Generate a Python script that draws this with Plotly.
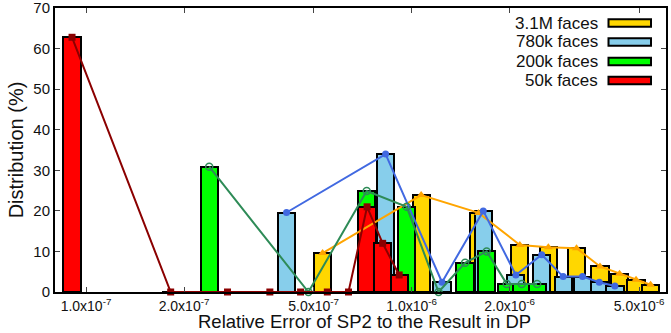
import numpy as np
import plotly.graph_objects as go

# ---- data ----
series_names = ["3.1M faces", "780k faces", "200k faces", "50k faces"]

x_31m = [5.33e-7, 1.07e-6, 1.606e-6, 2.15e-6, 2.63e-6, 3.21e-6, 3.79e-6, 4.35e-6, 4.89e-6, 5.42e-6]
y_31m = [9.6, 23.9, 19.5, 11.6, 11.05, 10.8, 6.3, 4.5, 3.0, 1.8]

x_780k = [4.13e-7, 8.32e-7, 1.24e-6, 1.66e-6, 2.09e-6, 2.51e-6, 2.92e-6, 3.35e-6, 3.77e-6, 4.21e-6]
y_780k = [19.6, 34.0, 2.4, 20.0, 4.2, 9.2, 3.8, 3.8, 2.4, 1.5]

x_200k = [2.39e-7, 4.82e-7, 7.28e-7, 9.66e-7, 1.21e-6, 1.46e-6, 1.70e-6, 1.96e-6, 2.18e-6, 2.43e-6]
y_200k = [30.9, 0.0, 24.9, 21.0, 0.0, 7.2, 10.0, 2.0, 2.0, 2.0]

x_50k = [0.906e-7, 1.82e-7, 2.72e-7, 3.67e-7, 4.56e-7, 5.51e-7, 6.40e-7, 7.30e-7, 8.15e-7, 9.16e-7]
y_50k = [62.8, 0.0, 0.0, 0.0, 0.0, 0.0, 0.0, 21.0, 12.0, 4.2]

tick_values = [1e-7, 2e-7, 5e-7, 1e-6, 2e-6, 5e-6]
tick_labels = ["1.0x10<sup>-7</sup>", "2.0x10<sup>-7</sup>", "5.0x10<sup>-7</sup>",
               "1.0x10<sup>-6</sup>", "2.0x10<sup>-6</sup>", "5.0x10<sup>-6</sup>"]
y_ticks = [0, 10, 20, 30, 40, 50, 60, 70]
y_tick_labels = ["0", "10", "20", "30", "40", "50", "60", "70"]
x_title = "Relative Error of SP2 to the Result in DP"
y_title = "Distribution (%)"

# ---- styles ----
bar_colors = ["#FFD700", "#87CEEB", "#00FF00", "#FF0000"]
line_colors = ["#FFA500", "#4169E1", "#2E8B57", "#8B0000"]
markers = [
    dict(symbol="triangle-up", size=8),
    dict(symbol="circle", size=7),
    dict(symbol="circle-open", size=7, line=dict(width=1.5)),
    dict(symbol="square", size=7),
]
xs = [x_31m, x_780k, x_200k, x_50k]
ys = [y_31m, y_780k, y_200k, y_50k]

BAR_W = 0.053  # in log10 units (constant pixel width on log axis)

fig = go.Figure()
for name, x, y, c in zip(series_names, xs, ys, bar_colors):
    fig.add_trace(go.Bar(
        x=np.log10(x), y=y, width=BAR_W, name=name,
        marker=dict(color=c, line=dict(color="black", width=2)),
        showlegend=False,
    ))
for name, x, y, c, m in zip(series_names, xs, ys, line_colors, markers):
    mk = dict(m)
    mk["color"] = c
    if "line" in mk:
        mk["line"] = dict(mk["line"], color=c)
    fig.add_trace(go.Scatter(
        x=np.log10(x), y=y, mode="lines+markers", name=name,
        line=dict(color=c, width=2), marker=mk, showlegend=False,
        cliponaxis=False,
    ))

# ---- legend (text on left, swatch on right, as in the original) ----
row_y = [23, 42, 61.5, 80.5]  # pixel rows from top
plot_top, plot_bot = 8, 292
for name, c, ry in zip(series_names, bar_colors, row_y):
    yp = (plot_bot - ry) / (plot_bot - plot_top)
    fig.add_annotation(
        x=(600 - 55) / (666 - 55), y=yp, xref="paper", yref="paper",
        text=name, showarrow=False, xanchor="right", yanchor="middle",
        font=dict(family="Liberation Sans, Arial", size=17, color="#111"),
    )
    fig.add_shape(
        type="rect", xref="paper", yref="paper",
        x0=(608.5 - 55) / 611, x1=(651 - 55) / 611,
        y0=(plot_bot - (ry + 3.8)) / 284, y1=(plot_bot - (ry - 3.8)) / 284,
        fillcolor=c, line=dict(color="black", width=2),
    )

# x-axis title placed below the tick labels
fig.add_annotation(
    x=(364 - 55) / 611, y=(plot_bot - 333) / 284, xref="paper", yref="paper",
    text=x_title, showarrow=False, xanchor="center", yanchor="bottom",
    borderpad=0,
    font=dict(family="Liberation Sans, Arial", size=18.5, color="#111"),
)

fig.update_layout(
    width=671, height=333,
    margin=dict(l=55, r=5, t=8, b=41),
    paper_bgcolor="white", plot_bgcolor="white",
    barmode="overlay", bargap=0,
    font=dict(family="Liberation Sans, Arial", size=15, color="#111"),
    xaxis=dict(
        range=[-7.0952, -5.2187],
        tickvals=np.log10(tick_values), ticktext=tick_labels,
        ticks="inside", ticklen=5, tickwidth=1, tickcolor="#444",
        showline=True, linecolor="black", linewidth=2, mirror="allticks",
        showgrid=False, zeroline=False, automargin=False,
        tickfont=dict(size=14), ticklabeloverflow="allow",
    ),
    yaxis=dict(
        range=[0, 70.02], tickvals=y_ticks, ticktext=y_tick_labels,
        ticks="inside", ticklen=5, tickwidth=1, tickcolor="#444",
        showline=True, linecolor="black", linewidth=2, mirror="allticks",
        showgrid=False, zeroline=False, automargin=False,
        tickfont=dict(size=15), ticklabeloverflow="allow",
        title=dict(text=y_title, font=dict(size=20), standoff=4),
    ),
)

fig.write_html("out.html")
